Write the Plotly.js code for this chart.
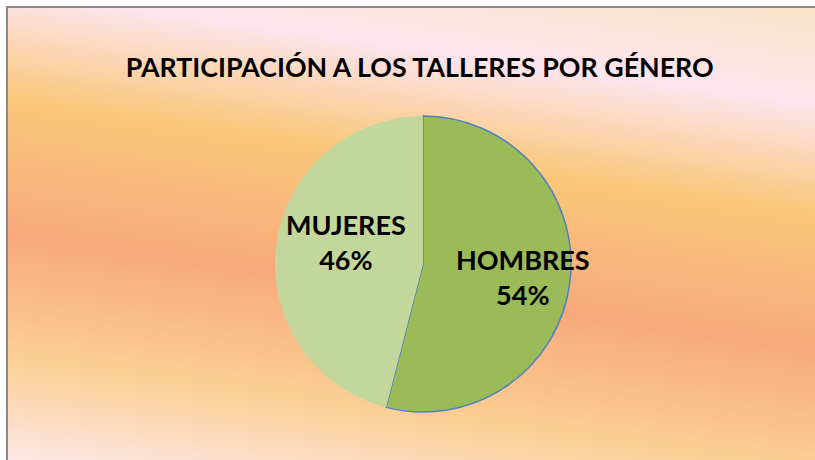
<!DOCTYPE html>
<html>
<head>
<meta charset="utf-8">
<script src="https://cdn.plot.ly/plotly-3.0.1.min.js"></script>
<style>
  html, body { margin: 0; padding: 0; background: #ffffff; }
  #wrap { position: relative; width: 815px; height: 460px; overflow: hidden; background: #ffffff; }
  #bg {
    position: absolute; left: 6px; top: 6px; width: 809px; height: 454px;
    border-top: 2px solid #8c8c8c; border-left: 2px solid #8c8c8c;
    background: linear-gradient(188deg, #fbe2c6 0%, #fde4ee 17%, #f9c87a 36%, #f9a97c 60%, #fad095 82%, #fde6e6 100%);
  }
  #chart { position: absolute; left: 0; top: 0; width: 815px; height: 460px; }
</style>
</head>
<body>
<div id="wrap">
  <div id="bg"></div>
  <div id="chart"></div>
</div>
<script>
const categories = ['HOMBRES', 'MUJERES'];
const values = [54, 46];
const sliceColors = ['#9bbb59', '#c3d69b'];
const titleText = 'PARTICIPACIÓN A LOS TALLERES POR GÉNERO';

const W = 815, H = 460;
const dom = { x: [0.3374, 0.7006], y: [0.1043, 0.7478] };
const labelRadius = [0.68, 0.54];   // label distance as fraction of pie radius
const labelShift = [0, 9];           // extra angular shift (degrees) for label placement

const trace = {
  type: 'pie',
  labels: categories,
  values: values,
  sort: false,
  direction: 'clockwise',
  rotation: 0,
  marker: { colors: sliceColors, line: { color: ['#4f81bd', 'rgba(0,0,0,0)'], width: 1.5 } },
  textinfo: 'none',
  hoverinfo: 'label+percent',
  domain: dom,
  showlegend: false
};

// data labels placed at each slice's mid-angle
const total = values.reduce((a, b) => a + b, 0);
const cx = (dom.x[0] + dom.x[1]) / 2 * W;
const cy = (1 - (dom.y[0] + dom.y[1]) / 2) * H;
const R = Math.min((dom.x[1] - dom.x[0]) * W, (dom.y[1] - dom.y[0]) * H) / 2;
let cum = 0;
const annotations = values.map((v, i) => {
  const mid = (cum + v / 2) / total * 360 + labelShift[i];
  cum += v;
  const th = mid * Math.PI / 180;
  const px = cx + labelRadius[i] * R * Math.sin(th);
  const py = cy - labelRadius[i] * R * Math.cos(th);
  return {
    xref: 'paper', yref: 'paper',
    x: px / W, y: 1 - py / H,
    xanchor: 'center', yanchor: 'middle',
    text: '<b>' + categories[i] + '<br>' + Math.round(v / total * 100) + '%</b>',
    showarrow: false,
    font: { family: 'Lato, sans-serif', size: 27, color: '#000000' }
  };
});

const layout = {
  width: W, height: H,
  margin: { l: 0, r: 0, t: 0, b: 0 },
  paper_bgcolor: 'rgba(0,0,0,0)',
  plot_bgcolor: 'rgba(0,0,0,0)',
  title: {
    text: '<b>' + titleText + '</b>',
    x: 0.515, xanchor: 'center',
    y: 0.852, yanchor: 'middle', yref: 'container',
    font: { family: 'Lato, sans-serif', size: 26.8, color: '#000000' }
  },
  annotations: annotations,
  showlegend: false
};

Plotly.newPlot('chart', [trace], layout, { displayModeBar: false, staticPlot: true });
</script>
</body>
</html>
